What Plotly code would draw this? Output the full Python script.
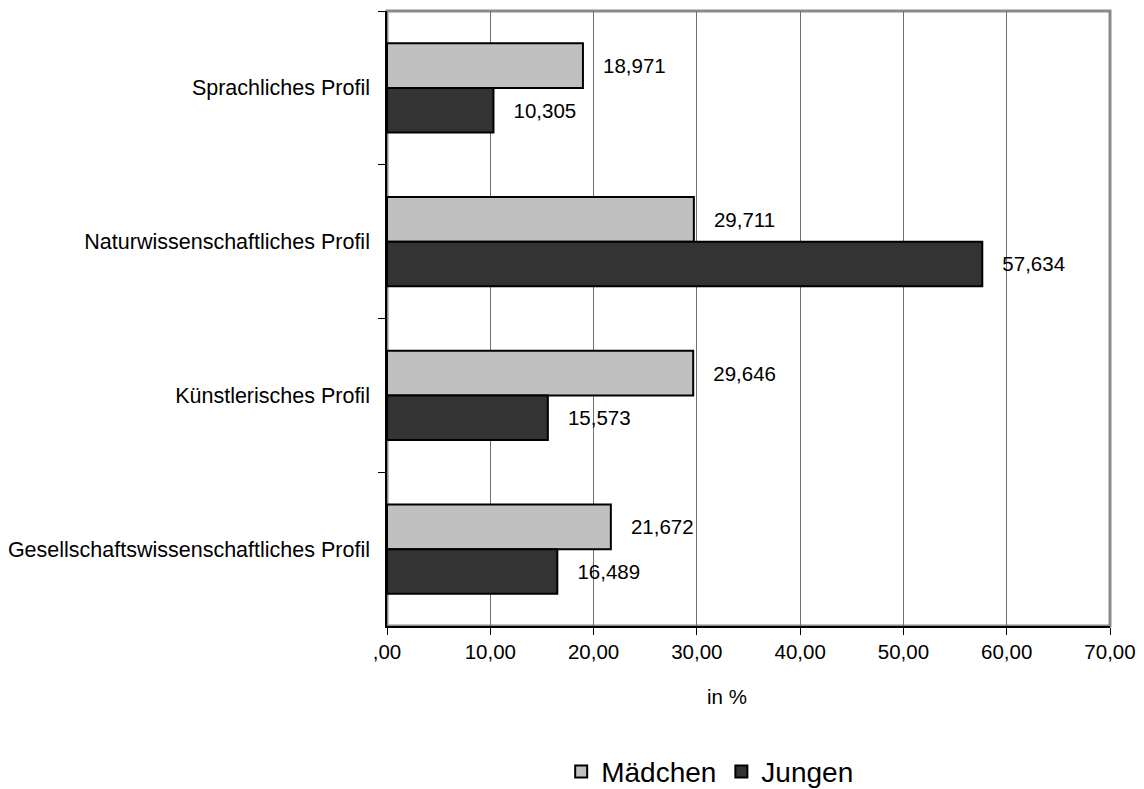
import plotly.graph_objects as go

# Profile categories, listed top to bottom
profiles = [
    "Sprachliches Profil",
    "Naturwissenschaftliches Profil",
    "Künstlerisches Profil",
    "Gesellschaftswissenschaftliches Profil",
]
maedchen = [18.971, 29.711, 29.646, 21.672]
jungen = [10.305, 57.634, 15.573, 16.489]

x_tickvals = [0, 10, 20, 30, 40, 50, 60, 70]
x_ticktext = [",00", "10,00", "20,00", "30,00", "40,00", "50,00", "60,00", "70,00"]

FONT = "Liberation Sans, Arial, sans-serif"
SIZE = 20.5
PAD = "\u00a0\u00a0\u00a0"

fig = go.Figure()
fig.add_trace(go.Bar(
    name="Mädchen", y=profiles, x=maedchen, orientation="h",
    marker=dict(color="#c0c0c0", line=dict(color="#000000", width=2)),
    text=maedchen, texttemplate=PAD + "%{x:.3f}", textposition="outside",
    textfont=dict(family=FONT, size=SIZE, color="#000000"), cliponaxis=False,
))
fig.add_trace(go.Bar(
    name="Jungen", y=profiles, x=jungen, orientation="h",
    marker=dict(color="#333333", line=dict(color="#000000", width=2)),
    text=jungen, texttemplate=PAD + "%{x:.3f}", textposition="outside",
    textfont=dict(family=FONT, size=SIZE, color="#000000"), cliponaxis=False,
))

fig.update_layout(
    width=1144, height=789,
    margin=dict(l=387, r=34, t=11, b=163, autoexpand=False),
    paper_bgcolor="white", plot_bgcolor="white",
    separators=",.",
    barmode="group", bargap=0.42, bargroupgap=0,
    font=dict(family=FONT, size=SIZE, color="#000000"),
    showlegend=True,
    legend=dict(
        orientation="h", x=0.447, xanchor="center", y=-0.237, yanchor="middle",
        font=dict(family=FONT, size=28, color="#000000"),
        itemwidth=30, traceorder="normal",
    ),
    xaxis=dict(
        range=[0, 70], tickvals=x_tickvals, ticktext=x_ticktext,
        showgrid=True, gridcolor="#6e6e6e", gridwidth=1,
        showline=True, linecolor="#000000", linewidth=1.5,
        ticks="outside", ticklen=7, tickcolor="#000000",
        tickfont=dict(family=FONT, size=SIZE, color="#000000"),
        zeroline=False, fixedrange=True,
    ),
    yaxis=dict(
        categoryorder="array", categoryarray=profiles, autorange="reversed",
        tickson="boundaries", ticks="outside", ticklen=7, tickcolor="#000000",
        showline=True, linecolor="#000000", linewidth=1.5,
        showgrid=False, ticklabelstandoff=11,
        tickfont=dict(family=FONT, size=21.5, color="#000000"),
        fixedrange=True,
    ),
    annotations=[dict(
        text="in %", xref="paper", yref="paper", x=0.47, y=-0.114,
        xanchor="center", yanchor="middle", showarrow=False,
        font=dict(family=FONT, size=SIZE, color="#000000"),
    )],
    shapes=[dict(
        type="rect", xref="paper", yref="paper", x0=0, x1=1, y0=0, y1=1,
        line=dict(color="#8a8a8a", width=3), layer="below",
    )],
)

fig.write_html("out.html")
